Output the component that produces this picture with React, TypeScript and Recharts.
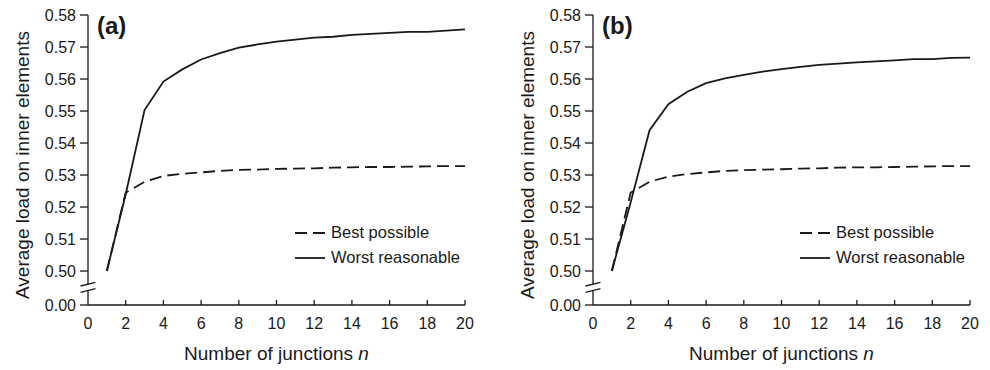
import React from "react"
import { LineChart, Line, XAxis, YAxis } from "recharts"

// number of junctions n
const junctions = [1, 2, 3, 4, 5, 6, 7, 8, 9, 10, 11, 12, 13, 14, 15, 16, 17, 18, 19, 20]

// panel (a)
const bestA = [0.5, 0.5245, 0.5279, 0.5297, 0.5304, 0.5308, 0.5313, 0.5316, 0.5317, 0.5319, 0.532, 0.5321, 0.5323, 0.5324, 0.5325, 0.5325, 0.5326, 0.5327, 0.5328, 0.5328]
const worstA = [0.5, 0.524, 0.5503, 0.5592, 0.563, 0.5661, 0.5681, 0.5698, 0.5708, 0.5717, 0.5723, 0.5729, 0.5732, 0.5738, 0.5741, 0.5744, 0.5747, 0.5747, 0.5751, 0.5755]

// panel (b)
const bestB = [0.5, 0.5245, 0.5279, 0.5295, 0.5303, 0.5308, 0.5313, 0.5315, 0.5317, 0.5318, 0.532, 0.5321, 0.5323, 0.5324, 0.5324, 0.5325, 0.5326, 0.5327, 0.5328, 0.5328]
const worstB = [0.5, 0.5215, 0.544, 0.5521, 0.556, 0.5587, 0.5602, 0.5613, 0.5623, 0.5631, 0.5638, 0.5644, 0.5648, 0.5652, 0.5655, 0.5658, 0.5662, 0.5662, 0.5666, 0.5667]

const seriesNames = ["Best possible", "Worst reasonable"]

// broken axis: the bottom of the domain stands for 0.00
const AXIS_BREAK = 0.489375
const yTicks = [AXIS_BREAK, 0.5, 0.51, 0.52, 0.53, 0.54, 0.55, 0.56, 0.57, 0.58]
const xTicks = [0, 2, 4, 6, 8, 10, 12, 14, 16, 18, 20]

const FONT = '"Liberation Sans", Arial, Helvetica, sans-serif'
const INK = "#1a1a1a"
const DASH = "12 6"

function YTick(props: any) {
    const { x, y, payload } = props
    const axisX = x + 12
    const isBreak = payload.value < 0.495
    return (
        <g>
            <text x={x} y={y} dy="0.36em" textAnchor="end" fontSize={16} fill={INK} fontFamily={FONT}>
                {isBreak ? "0.00" : payload.value.toFixed(2)}
            </text>
            {isBreak && (
                <g stroke={INK} strokeWidth={1.3}>
                    <polygon
                        points={`${axisX - 3},${y - 19.5} ${axisX + 3},${y - 21} ${axisX + 3},${y - 15} ${axisX - 3},${y - 13.5}`}
                        fill="#fff"
                        stroke="none"
                    />
                    <line x1={axisX - 7.5} y1={y - 19} x2={axisX + 7.5} y2={y - 22.7} />
                    <line x1={axisX - 7.5} y1={y - 12.7} x2={axisX + 7.5} y2={y - 16.4} />
                </g>
            )}
        </g>
    )
}

function XTick(props: any) {
    const { x, y, payload } = props
    const axisY = y - 13
    return (
        <g>
            {payload.value !== 0 && <line x1={x} y1={axisY} x2={x} y2={axisY - 5} stroke={INK} strokeWidth={1.3} />}
            <text x={x} y={y} dy="0.71em" textAnchor="middle" fontSize={16} fill={INK} fontFamily={FONT}>
                {payload.value}
            </text>
        </g>
    )
}

function LegendBox() {
    const dashes = [DASH, undefined]
    return (
        <div style={{ position: "absolute", left: 295, top: 220, fontFamily: FONT, fontSize: 16.5, color: INK }}>
            {seriesNames.map((name, i) => (
                <div key={name} style={{ display: "flex", alignItems: "center", height: 25 }}>
                    <svg width={30} height={4} style={{ marginRight: 6 }}>
                        <line x1={0} y1={2} x2={30} y2={2} stroke={INK} strokeWidth={1.8} strokeDasharray={dashes[i]} />
                    </svg>
                    <span>{name}</span>
                </div>
            ))}
        </div>
    )
}

function Panel({ tag, best, worst, left }: { tag: string; best: number[]; worst: number[]; left: number }) {
    const data = junctions.map((n, i) => ({ n, best: best[i], worst: worst[i] }))
    return (
        <div style={{ position: "absolute", left, top: 0, width: 485, height: 370 }}>
            <LineChart width={485} height={370} data={data} margin={{ top: 15, right: 20, bottom: 0, left: 0 }}>
                <XAxis
                    dataKey="n"
                    type="number"
                    domain={[0, 20]}
                    ticks={xTicks}
                    height={65}
                    tickSize={0}
                    tickMargin={13}
                    tickLine={false}
                    axisLine={{ stroke: INK, strokeWidth: 1.3 }}
                    tick={<XTick />}
                    label={{
                        content: (p: any) => {
                            const vb = p.viewBox
                            return (
                                <text x={vb.x + vb.width / 2} y={vb.y + 55} textAnchor="middle" fontSize={19} fill={INK} fontFamily={FONT}>
                                    Number of junctions <tspan fontStyle="italic">n</tspan>
                                </text>
                            )
                        },
                    }}
                />
                <YAxis
                    type="number"
                    domain={[AXIS_BREAK, 0.58]}
                    ticks={yTicks}
                    width={88}
                    tickSize={8}
                    tickMargin={4}
                    tickLine={{ stroke: INK, strokeWidth: 1.3 }}
                    axisLine={{ stroke: INK, strokeWidth: 1.3 }}
                    tick={<YTick />}
                    label={{
                        content: (p: any) => {
                            const vb = p.viewBox
                            const cy = vb.y + vb.height / 2 + 5
                            return (
                                <g>
                                    <text x={29} y={cy} transform={`rotate(-90, 29, ${cy})`} textAnchor="middle" fontSize={19} fill={INK} fontFamily={FONT}>
                                        Average load on inner elements
                                    </text>
                                    <text x={vb.x + vb.width + 9} y={vb.y + 19} fontSize={24} fontWeight="bold" fill={INK} fontFamily={FONT}>
                                        {tag}
                                    </text>
                                </g>
                            )
                        },
                    }}
                />
                <Line type="linear" dataKey="best" name={seriesNames[0]} stroke={INK} strokeWidth={1.8} strokeDasharray={DASH} dot={false} isAnimationActive={false} />
                <Line type="linear" dataKey="worst" name={seriesNames[1]} stroke={INK} strokeWidth={1.8} dot={false} isAnimationActive={false} />
            </LineChart>
            <LegendBox />
        </div>
    )
}

export default function App() {
    return (
        <div style={{ position: "absolute", left: 0, top: 0, width: 990, height: 370, background: "#fff" }}>
            <Panel tag="(a)" best={bestA} worst={worstA} left={0} />
            <Panel tag="(b)" best={bestB} worst={worstB} left={505} />
        </div>
    )
}
